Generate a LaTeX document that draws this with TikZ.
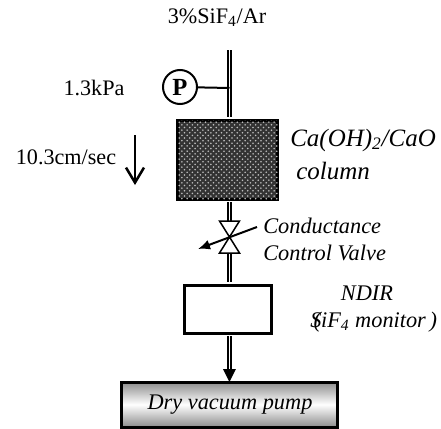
\documentclass[tikz,border=0pt]{standalone}
\usepackage{fontspec}
\setmainfont{Liberation Serif}
\usepackage{tikz}
\usetikzlibrary{arrows.meta,patterns}
\tikzset{
    pipe/.style={draw=black, double=white, double distance=0.03cm, line width=0.04cm},
    box/.style={draw=black, line width=0.06cm, minimum width=#1, inner sep=0pt},
    lab/.style={font=\fontsize{12.6}{15}\selectfont, inner sep=0pt},
    itlab/.style={font=\fontsize{12.7}{15}\selectfont\itshape, inner sep=0pt},
    bigit/.style={font=\fontsize{14.2}{17}\selectfont\itshape, inner sep=0pt}
}
\begin{document}
\begin{tikzpicture}
    \useasboundingbox (0,0) rectangle (8.82,8.56);
    \coordinate (inlet) at (4.59,7.56);
    \coordinate (tee) at (4.59,6.80);
    \coordinate (valve) at (4.59,3.82);
    \coordinate (valvetop) at (4.59,4.14);
    \coordinate (valvebot) at (4.59,3.50);
    \coordinate (headbase) at (4.59,1.18);
    \coordinate (headtip) at (4.59,0.92);
    % boxes
    \node[box=2cm, minimum height=1.58cm, fill=black!80, postaction={pattern=crosshatch dots, pattern color=black!25}] (column) at (4.56,5.37) {};
    \node[box=1.74cm, minimum height=0.96cm, fill=white] (ndir) at (4.57,2.38) {};
    \node[box=4.32cm, minimum height=0.9cm, top color=black!45, bottom color=black!45, middle color=white, itlab] (pump) at (4.6,0.47) {Dry vacuum pump};
    \node[circle, draw=black, line width=0.04cm, minimum size=0.68cm, inner sep=0pt, font=\fontsize{14}{16}\selectfont\bfseries] (gauge) at (3.6,6.82) {P};
    % pipes
    \draw[pipe, shorten >=0.03cm] (inlet) -- (inlet |- column.north);
    \draw[pipe, shorten <=0.03cm] (valvetop |- column.south) -- (valvetop);
    \draw[pipe, shorten >=0.03cm] (valvebot) -- (valvebot |- ndir.north);
    \draw[pipe, shorten <=0.03cm] (headbase |- ndir.south) -- (headbase);
    \draw[line width=0.04cm] (gauge) -- (tee);
    \fill[black] (4.46,1.18) -- (4.72,1.18) -- (headtip) -- cycle;
    % valve
    \draw[line width=0.03cm, fill=white] (4.39,4.14) -- (4.79,4.14) -- (valve) -- cycle;
    \draw[line width=0.03cm, fill=white] (4.39,3.50) -- (4.79,3.50) -- (valve) -- cycle;
    \coordinate (adjfrom) at (5.14,4.02);
    \coordinate (adjto) at (3.96,3.58);
    \draw[line width=0.04cm, -{Latex[length=0.24cm,width=0.2cm]}] (adjfrom) -- (adjto);
    % flow
    \coordinate (flowfrom) at (2.7,5.86);
    \coordinate (flowto) at (2.7,4.86);
    \draw[line width=0.05cm, -{Straight Barb[length=0.3cm,width=0.36cm]}] (flowfrom) -- (flowto);
    % labels
    \node[lab] (gas) at (4.34,8.2) {3\%SiF\textsubscript{4}/Ar};
    \node[lab] (press) at (1.88,6.8) {1.3kPa};
    \node[lab] (speed) at (1.32,5.42) {10.3cm/sec};
    \node[bigit, anchor=west] (columnname) at (5.8,5.76) {Ca(OH)\textsubscript{2}/CaO};
    \node[bigit, anchor=west] (columnword) at (5.92,5.14) {column};
    \node[itlab, anchor=west] (valvename) at (5.26,4.04) {Conductance};
    \node[itlab, anchor=west] (valveword) at (5.26,3.5) {Control Valve};
    \node[itlab] (ndirname) at (7.34,2.7) {NDIR};
    \node[itlab, anchor=west] (ndirword) at (6.2,2.12) {S\kern-0.35em(iF\textsubscript{4} monitor\,)};
\end{tikzpicture}
\end{document}
